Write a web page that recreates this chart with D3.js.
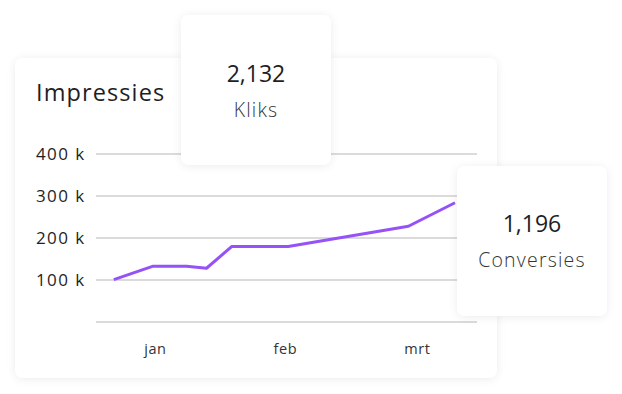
<!DOCTYPE html>
<html><head><meta charset="utf-8">
<script src="https://cdn.jsdelivr.net/npm/d3@7"></script>
<style>
html,body{margin:0;padding:0;background:#fff;}
svg{display:block;}
</style></head>
<body>
<script>
// Data
const pointDays = [4.2, 13.5, 21.4, 26.1, 32.1, 45.4, 73.8, 84.8];
const impressions = [101000, 133000, 133000, 128000, 180000, 180000, 228000, 284000];
const monthLabels = ["jan", "feb", "mrt"];
const monthDays = [13.9, 44.6, 75.8];
const yTicks = [0, 100000, 200000, 300000, 400000];
const chartTitle = "Impressies";
const statValues = ["2,132", "1,196"];
const statLabels = ["Kliks", "Conversies"];

const W = 622, H = 394;
const FONT = "'Open Sans', 'DejaVu Sans', sans-serif";
const svg = d3.select("body").append("svg").attr("width", W).attr("height", H);

const defs = svg.append("defs");
const f = defs.append("filter").attr("id", "sh").attr("x", "-20%").attr("y", "-20%").attr("width", "140%").attr("height", "140%");
f.append("feDropShadow").attr("dx", 0).attr("dy", 1).attr("stdDeviation", 4).attr("flood-color", "#000").attr("flood-opacity", 0.08);

// main card
svg.append("rect").attr("x", 15).attr("y", 58).attr("width", 482).attr("height", 320)
  .attr("rx", 8).attr("fill", "#fff").attr("filter", "url(#sh)");

svg.append("text").attr("x", 36).attr("y", 101).text(chartTitle)
  .attr("font-family", FONT).attr("font-size", 23.5).attr("letter-spacing", 1.1).attr("fill", "#1e1e24");

const x = d3.scaleLinear().domain([0, 90]).range([96, 477]);
const y = d3.scaleLinear().domain([0, 400000]).range([322, 154]);

// grid
const grid = svg.append("g");
grid.selectAll("line").data(yTicks).join("line")
  .attr("x1", x(0)).attr("x2", x(90))
  .attr("y1", d => y(d)).attr("y2", d => y(d))
  .attr("stroke", "#cfcfcf").attr("stroke-width", 1.5);

// y labels
const yAxis = d3.axisLeft(y).tickValues(yTicks.filter(d => d > 0))
  .tickFormat(d => (d / 1000) + " k").tickSize(0).tickPadding(0);
const gy = svg.append("g").attr("transform", "translate(84,0)").call(yAxis);
gy.select(".domain").remove();
gy.selectAll("text").attr("font-family", FONT).attr("font-size", 17).attr("letter-spacing", 1.4).attr("fill", "#1e1e24")
  .attr("text-anchor", "start").attr("x", -48);

// x labels
const xAxis = d3.axisBottom(x).tickValues(monthDays).tickFormat((d, i) => monthLabels[i]).tickSize(0).tickPadding(0);
const gx = svg.append("g").attr("transform", "translate(0,344)").call(xAxis);
gx.select(".domain").remove();
gx.selectAll("text").attr("font-family", FONT).attr("font-size", 14.5).attr("letter-spacing", 0.6).attr("fill", "#333");

// line
const line = d3.line().x((d, i) => x(pointDays[i])).y(d => y(d));
svg.append("path").datum(impressions).attr("d", line)
  .attr("fill", "none").attr("stroke", "#9552f8").attr("stroke-width", 3)
  .attr("stroke-linejoin", "round");

// stat cards
const cards = [
  {x: 181, y: 15, w: 150, h: 150, vy: 82, ly: 117},
  {x: 457, y: 166, w: 150, h: 150, vy: 232, ly: 267}
];
cards.forEach((c, i) => {
  svg.append("rect").attr("x", c.x).attr("y", c.y).attr("width", c.w).attr("height", c.h)
    .attr("rx", 8).attr("fill", "#fff").attr("filter", "url(#sh)");
  svg.append("text").attr("x", c.x + c.w / 2).attr("y", c.vy).attr("text-anchor", "middle")
    .attr("font-family", FONT).attr("font-size", 23).attr("fill", "#1e1e24").text(statValues[i]);
  svg.append("text").attr("x", c.x + c.w / 2).attr("y", c.ly).attr("text-anchor", "middle")
    .attr("font-family", FONT).attr("font-weight", 300).attr("font-size", 19.5).attr("letter-spacing", 1.2)
    .attr("fill", "#333").text(statLabels[i]);
});
</script>
</body></html>
